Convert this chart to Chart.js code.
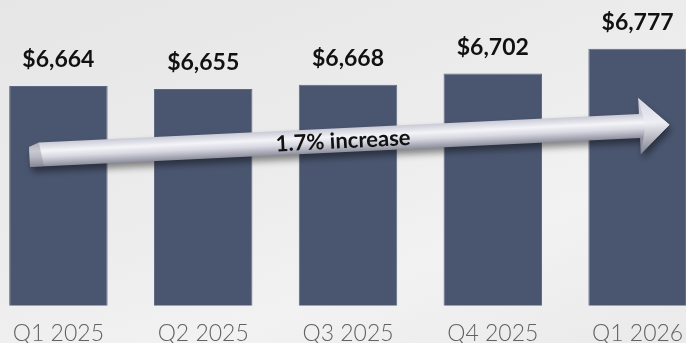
<!DOCTYPE html>
<html>
<head>
<meta charset="utf-8">
<script src="https://cdn.jsdelivr.net/npm/chart.js@4.4.1/dist/chart.umd.min.js"></script>
<style>
    html, body {
        margin: 0;
        padding: 0;
        width: 686px;
        height: 343px;
        overflow: hidden;
        background: linear-gradient(160deg, #e6e6e6 0%, #ececec 45%, #f2f2f2 70%, #eaeaea 100%);
    }
    #wrap {
        position: absolute;
        left: -14px;
        top: 0;
        width: 724px;
        height: 361px;
    }
</style>
</head>
<body>
<div id="wrap"><canvas id="revenue-chart"></canvas></div>
<script>
const quarters = ['Q1 2025', 'Q2 2025', 'Q3 2025', 'Q4 2025', 'Q1 2026'];
const amounts = [6664, 6655, 6668, 6702, 6777];
const trendText = '1.7% increase';
// trend arrow ends, in axis units (category index, value)
const arrowStart = [-0.2, 6455];
const arrowEnd = [4.22, 6547];

const BAR_COLOR = '#4a5670';

// dollar labels above each bar
const valueLabels = {
    id: 'valueLabels',
    afterDatasetsDraw(chart) {
        const ctx = chart.ctx;
        const meta = chart.getDatasetMeta(0);
        ctx.save();
        ctx.font = 'bold 23px Lato, "DejaVu Sans", sans-serif';
        ctx.fillStyle = '#111111';
        ctx.textAlign = 'center';
        ctx.textBaseline = 'middle';
        meta.data.forEach((bar, i) => {
            ctx.fillText('$' + amounts[i].toLocaleString('en-US'), bar.x, bar.y - 26);
        });
        ctx.restore();
    }
};

// silver trend arrow drawn over the bars
const trendArrow = {
    id: 'trendArrow',
    afterDraw(chart) {
        const { ctx, scales: { x, y } } = chart;
        const x0 = x.getPixelForValue(arrowStart[0]);
        const y0 = y.getPixelForValue(arrowStart[1]);
        const x1 = x.getPixelForValue(arrowEnd[0]);
        const y1 = y.getPixelForValue(arrowEnd[1]);
        const len = Math.hypot(x1 - x0, y1 - y0);
        const ang = Math.atan2(y1 - y0, x1 - x0);
        const shaft = 12;
        const head = 28;
        const headLen = 30;
        const bevel = 10;

        ctx.save();
        ctx.translate(x0, y0);
        ctx.rotate(ang);

        const path = new Path2D();
        path.moveTo(bevel, -shaft);
        path.lineTo(len - headLen, -shaft);
        path.lineTo(len - headLen, -head);
        path.lineTo(len, 0);
        path.lineTo(len - headLen, head);
        path.lineTo(len - headLen, shaft);
        path.lineTo(0, shaft);
        path.lineTo(0, -shaft + bevel * 0.4);
        path.closePath();

        const grad = ctx.createLinearGradient(0, -shaft, 0, shaft);
        grad.addColorStop(0, '#c9cad6');
        grad.addColorStop(0.35, '#f4f4f8');
        grad.addColorStop(0.6, '#d8d9e2');
        grad.addColorStop(1, '#8e8f9e');

        ctx.shadowColor = 'rgba(0,0,0,0.45)';
        ctx.shadowBlur = 7;
        ctx.shadowOffsetY = 5;
        ctx.shadowOffsetX = 2;
        ctx.fillStyle = grad;
        ctx.fill(path);
        ctx.shadowColor = 'transparent';

        // bevel shading on the arrow head
        const hg = ctx.createLinearGradient(len - headLen, -head, len - headLen, head);
        hg.addColorStop(0, '#d4d5df');
        hg.addColorStop(0.45, '#eeeef4');
        hg.addColorStop(1, '#7f8090');
        ctx.beginPath();
        ctx.moveTo(len - headLen, -head);
        ctx.lineTo(len, 0);
        ctx.lineTo(len - headLen, head);
        ctx.lineTo(len - headLen + 6, 0);
        ctx.closePath();
        ctx.fillStyle = hg;
        ctx.fill();

        // left end bevel
        ctx.beginPath();
        ctx.moveTo(0, -shaft + bevel * 0.4);
        ctx.lineTo(bevel, -shaft);
        ctx.lineTo(bevel + 4, shaft);
        ctx.lineTo(0, shaft);
        ctx.closePath();
        ctx.fillStyle = 'rgba(120,120,135,0.35)';
        ctx.fill();

        ctx.font = 'bold 22px Lato, "DejaVu Sans", sans-serif';
        ctx.fillStyle = '#111111';
        ctx.textAlign = 'center';
        ctx.textBaseline = 'middle';
        ctx.fillText(trendText, len * 0.49, 1);
        ctx.restore();
    }
};

new Chart(document.getElementById('revenue-chart').getContext('2d'), {
    type: 'bar',
    data: {
        labels: quarters,
        datasets: [{
            data: amounts,
            backgroundColor: BAR_COLOR,
            borderColor: '#5d6883',
            borderWidth: 1,
            barPercentage: 0.68,
            categoryPercentage: 1.0
        }]
    },
    options: {
        responsive: true,
        maintainAspectRatio: false,
        animation: false,
        layout: { padding: { top: 8, bottom: 0, left: 0, right: 0 } },
        plugins: {
            legend: { display: false },
            tooltip: { enabled: false }
        },
        scales: {
            x: {
                grid: { display: false, drawTicks: false },
                border: { display: false },
                ticks: {
                    color: '#626262',
                    padding: 14,
                    font: { family: 'Lato, "DejaVu Sans", sans-serif', size: 23, weight: 300 }
                }
            },
            y: {
                display: false,
                min: 6000,
                max: 6900
            }
        }
    },
    plugins: [valueLabels, trendArrow]
});
</script>
</body>
</html>
